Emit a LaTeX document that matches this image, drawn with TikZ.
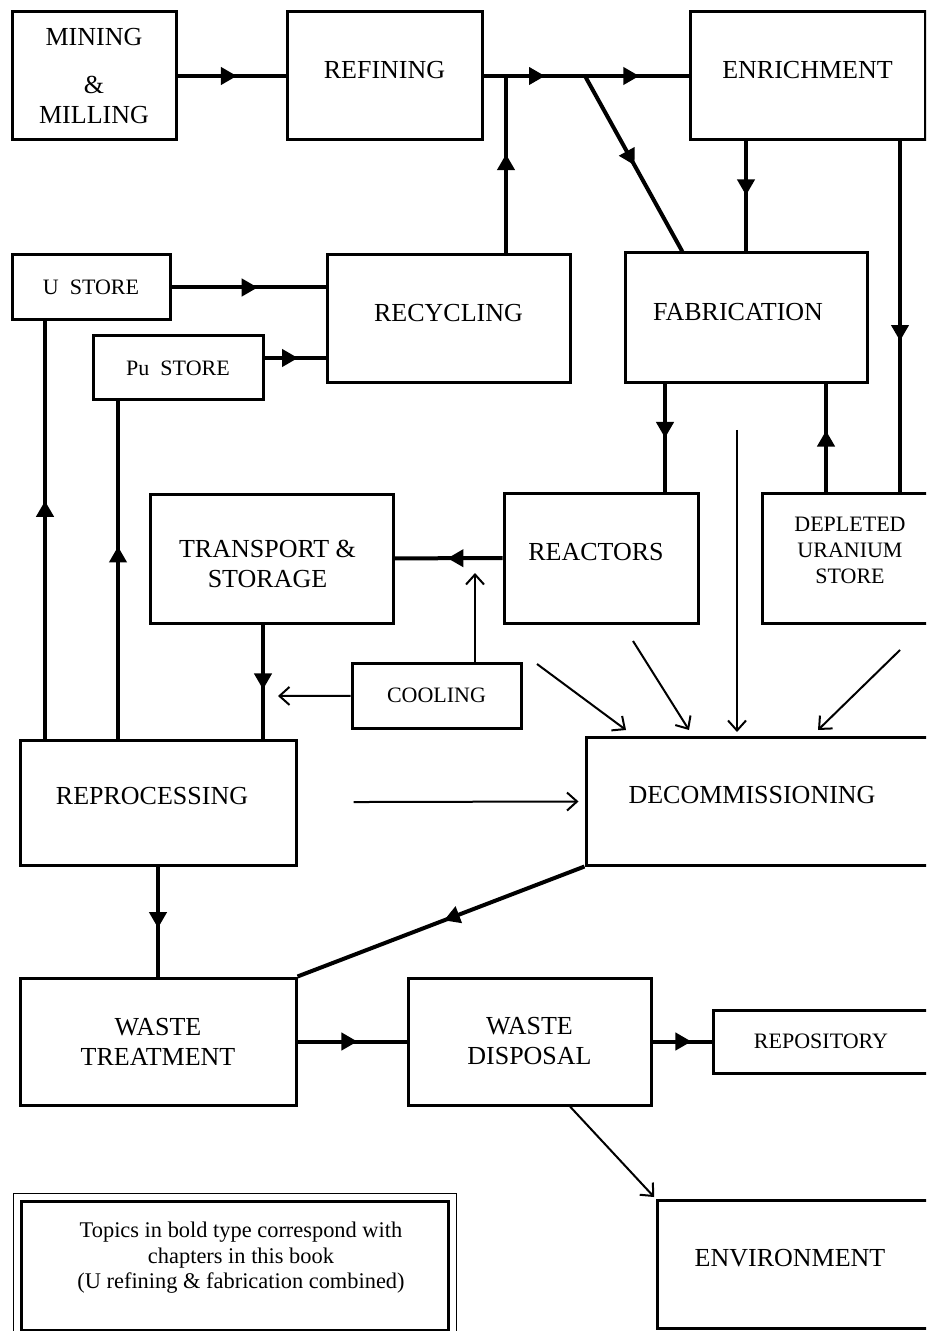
\documentclass[tikz,border=0pt]{standalone}
\usepackage{fontspec}
\setmainfont{Liberation Serif}
\usetikzlibrary{arrows.meta,positioning,calc,decorations.markings,fit}

\begin{document}
\begin{tikzpicture}[x=0.5pt, y=-0.5pt,
    big/.style={font=\fontsize{13}{15}\selectfont},
    small/.style={font=\fontsize{11}{13}\selectfont},
    box/.style={draw, line width=1.5pt, inner sep=0pt, align=center, big},
    sbox/.style={box, small},
    lift/.style={text depth=#1},
    flow/.style={line width=2pt},
    midarrow/.style={postaction={decorate, decoration={markings,
        mark=at position #1 with {\arrow{Triangle[length=8pt,width=8.5pt]}}}}},
    link/.style={line width=1pt, -{Straight Barb[length=5pt,width=9pt]}},
  ]
  \useasboundingbox (0,0) rectangle (926,1331);
  \clip (0,0) rectangle (926,1331);

  % fuel front end
  \node[box, minimum width=82pt, minimum height=64pt] (mining) at (94,76)
    {MINING\\[9pt]\&\\MILLING};
  \node[box, lift=6pt, minimum width=97.5pt, minimum height=64pt] (refining) at (384.5,76) {REFINING};
  \node[box, lift=6pt, minimum width=117.5pt, minimum height=64pt] (enrich) at (807.5,76) {ENRICHMENT};

  % stores and recycling
  \node[sbox, minimum width=79pt, minimum height=32.5pt] (ustore) at (91,287.5) {U\ \ STORE};
  \node[sbox, minimum width=85pt, minimum height=32pt] (pustore) at (178,368) {Pu\ \ STORE};
  \node[box, lift=6pt, minimum width=121.5pt, minimum height=64pt] (recycling) at (448.5,319) {RECYCLING};
  \node[box, minimum width=121pt, minimum height=65pt,
        label={[big, xshift=-4pt, yshift=3pt]center:FABRICATION}] (fabrication) at (746,318) {};

  % reactors row
  \node[box, minimum width=121.5pt, minimum height=64.5pt,
        label={[big, align=center, xshift=-2pt, yshift=-2.5pt]center:TRANSPORT \&\\STORAGE}]
    (transport) at (271.5,558.5) {};
  \node[box, minimum width=97pt, minimum height=65pt,
        label={[big, xshift=-2.5pt, yshift=3pt]center:REACTORS}] (reactors) at (601,558) {};
  \node[sbox, minimum width=88pt, minimum height=65pt,
        label={[small, align=center, yshift=4pt]center:DEPLETED\\URANIUM\\STORE}] (depleted) at (850,558) {};
  \node[sbox, minimum width=84.5pt, minimum height=32.5pt] (cooling) at (436.5,695.5) {COOLING};

  % back end
  \node[box, minimum width=138pt, minimum height=62.5pt,
        label={[big, xshift=-3pt, yshift=3pt]center:REPROCESSING}] (reproc) at (158,802.5) {};
  \node[box, minimum width=197pt, minimum height=64pt,
        label={[big, xshift=-15.5pt, yshift=3pt]center:DECOMMISSIONING}] (decom) at (783,801) {};
  \node[box, minimum width=138pt, minimum height=63.5pt] (wtreat) at (158,1041.5) {WASTE\\TREATMENT};
  \node[box, minimum width=121.5pt, minimum height=63.5pt] (wdisp) at (529.5,1041.5) {WASTE\\DISPOSAL};
  \node[sbox, minimum width=133.5pt, minimum height=31.5pt,
        label={[small, xshift=-12.75pt]center:REPOSITORY}] (repository) at (846.5,1041.5) {};
  \node[box, minimum width=161.5pt, minimum height=64pt,
        label={[big, xshift=-14.25pt, yshift=3pt]center:ENVIRONMENT}] (env) at (818.5,1264) {};

  % note
  \node[draw, line width=1.5pt, inner sep=0pt, minimum width=213.5pt, minimum height=64.25pt,
        label={[font=\fontsize{11.2}{12.8}\selectfont, align=center, xshift=3pt, yshift=3.9pt]center:
          Topics in bold type correspond with\\chapters in this book\\(U refining \& fabrication combined)}]
    (note) at (235,1265.75) {};
  \node[draw, line width=0.8pt, inner sep=3.3pt, fit=(note)] (noteframe) {};

  % main flows
  \coordinate (jrec) at (506,76);
  \coordinate (jfab) at (585,76);
  \draw[flow, midarrow=0.55] (mining) -- (refining);
  \draw[flow, midarrow=0.3, midarrow=0.76] (refining) -- (enrich);
  \draw[flow, midarrow=0.56] (recycling.north -| jrec) -- (jrec);
  \draw[flow, midarrow=0.51] (jfab) -- ($(fabrication.north west)!0.24!(fabrication.north east)$);
  \draw[flow, midarrow=0.49] (enrich.south -| fabrication.north) -- (fabrication.north);
  \coordinate (xdep) at ($(depleted.north)+(50,0)$);
  \draw[flow, midarrow=0.57] (enrich.south -| xdep) -- (xdep);
  \draw[flow, midarrow=0.56] (ustore) -- (ustore -| recycling.west);
  \draw[flow, midarrow=0.55] ([yshift=5pt]pustore.east) -- ([yshift=5pt]pustore.east -| recycling.west);
  \coordinate (xrea) at ($(reactors.north)+(64,0)$);
  \draw[flow, midarrow=0.5] (fabrication.south -| xrea) -- (xrea);
  \coordinate (xfab) at ($(depleted.north)+(-24,0)$);
  \draw[flow, midarrow=0.57] (xfab) -- (fabrication.south -| xfab);
  \draw[flow, midarrow=0.51] (reactors) -- (transport);
  \coordinate (xtr) at ($(transport.south)+(-8.5,0)$);
  \draw[flow, midarrow=0.57] (xtr) -- (reproc.north -| xtr);
  \coordinate (xu) at ($(ustore.south)+(-46,0)$);
  \draw[flow, midarrow=0.57] (reproc.north -| xu) -- (xu);
  \coordinate (xpu) at ($(pustore.south)+(-60,0)$);
  \draw[flow, midarrow=0.57] (reproc.north -| xpu) -- (xpu);
  \draw[flow, midarrow=0.56] (reproc) -- (wtreat);
  \draw[flow, midarrow=0.49] (decom.south west) -- (wtreat.north east);
  \draw[flow, midarrow=0.55] (wtreat) -- (wdisp);
  \draw[flow, midarrow=0.66] (wdisp) -- (wdisp -| repository.west);

  % thin arrows
  \coordinate (cupend) at (475,573);
  \coordinate (cleft) at (278,696);
  \draw[link] (cooling.north -| cupend) -- (cupend);
  \draw[link] (cooling) -- (cleft);
  \draw[link, shorten <=28pt, shorten >=3pt] (reproc) -- (decom);
  \coordinate (d1) at (537,664);  \coordinate (d1e) at (626,730);
  \coordinate (d2) at (633,641);  \coordinate (d2e) at (689,730);
  \coordinate (d3) at (737,430);  \coordinate (d3e) at (737,732);
  \coordinate (d4) at (900,650);  \coordinate (d4e) at (818,730);
  \draw[link] (d1) -- (d1e);
  \draw[link] (d2) -- (d2e);
  \draw[link] (d3) -- (d3e);
  \draw[link] (d4) -- (d4e);
  \draw[link, shorten >=1pt] ($(wdisp.south)+(40.5,0)$) -- (env.north west);
\end{tikzpicture}
\end{document}
